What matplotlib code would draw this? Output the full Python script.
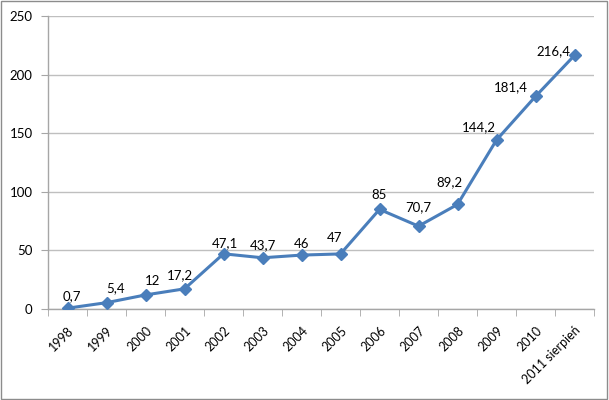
import matplotlib.pyplot as plt
from matplotlib.patches import Rectangle

# --- DATA ---
years = ["1998", "1999", "2000", "2001", "2002", "2003", "2004", "2005",
         "2006", "2007", "2008", "2009", "2010", "2011 sierpień"]
values = [0.7, 5.4, 12, 17.2, 47.1, 43.7, 46, 47, 85, 70.7, 89.2, 144.2, 181.4, 216.4]
labels = ["0,7", "5,4", "12", "17,2", "47,1", "43,7", "46", "47",
          "85", "70,7", "89,2", "144,2", "181,4", "216,4"]

# data label offsets in pixels (dx, dy)
label_offsets = [(4, 12), (9, 15), (7, 14), (-5, 14), (1, 11), (0, 13), (0, 11), (-6, 16),
                 (0, 14), (0, 19), (-8, 22), (-18, 13), (-25, 9), (-21, 4)]

LINE_BLUE = "#4a7ebb"
GRID_GRAY = "#bfbfbf"
AXIS_GRAY = "#a6a6a6"

plt.rcParams["font.family"] = ["Lato", "DejaVu Sans"]

fig = plt.figure(figsize=(6.09, 4.00), dpi=100)
ax = fig.add_axes([48 / 609, 91 / 400, 546 / 609, 293 / 400])

x = list(range(len(years)))
ax.plot(x, values, color=LINE_BLUE, linewidth=2.2, marker="D", markersize=6.3,
        markerfacecolor=LINE_BLUE, markeredgecolor=LINE_BLUE, zorder=3)

for xi, v, lab, off in zip(x, values, labels, label_offsets):
    ax.annotate(lab, (xi, v), xytext=off, textcoords="offset pixels",
                ha="center", va="center", fontsize=9.5, color="#000000")

ax.set_xlim(-0.5, len(years) - 0.5)
ax.set_ylim(0, 250)
ax.set_yticks(range(0, 251, 50))
ax.set_xticks(x)
ax.set_xticklabels(years, rotation=45, ha="right", rotation_mode="anchor", fontsize=9)
ax.set_xticks([i - 0.5 for i in range(len(years) + 1)], minor=True)
ax.tick_params(axis="x", which="major", length=0, pad=11)
ax.tick_params(axis="x", which="minor", length=5, color=AXIS_GRAY, direction="out")
ax.tick_params(axis="y", length=5, color=AXIS_GRAY, labelsize=9.5, pad=6)

ax.grid(axis="y", color=GRID_GRAY, linewidth=1)
ax.set_axisbelow(True)
for side in ["top", "right"]:
    ax.spines[side].set_visible(False)
for side in ["left", "bottom"]:
    ax.spines[side].set_color(AXIS_GRAY)
    ax.spines[side].set_linewidth(1)

# outer chart border
fig.patches.append(Rectangle((0.002, 0.003), 0.995, 0.994, transform=fig.transFigure,
                             fill=False, edgecolor="#8c8c8c", linewidth=1))

fig.savefig("out.png", dpi=100)
